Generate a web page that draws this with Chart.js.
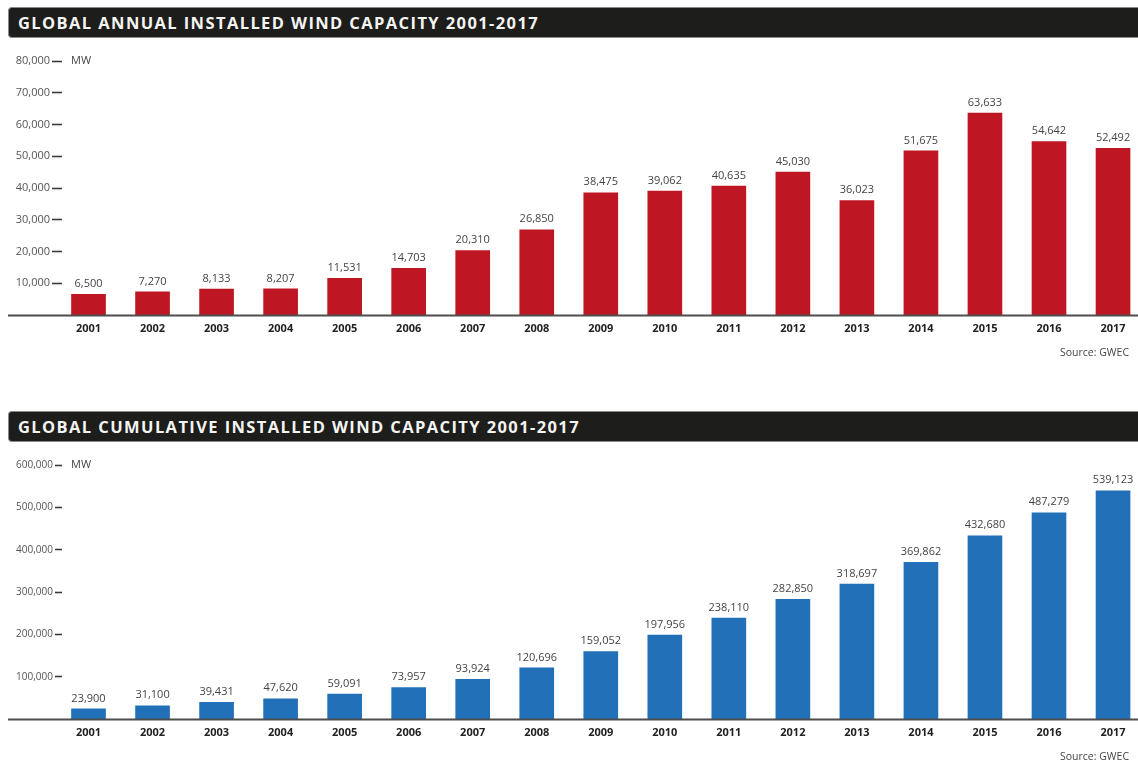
<!DOCTYPE html>
<html>
<head>
<meta charset="utf-8">
<script src="https://cdn.jsdelivr.net/npm/chart.js@4"></script>
<style>
  html, body { margin: 0; padding: 0; background: #fff; overflow: hidden; }
  body { width: 1138px; height: 763px; position: relative; font-family: "Open Sans", sans-serif; }
  .bar-title {
    position: absolute; left: 8px; width: 1130px; height: 31px;
    background: #1d1d1b; border: 1px solid #8a8a8a; border-right: none;
    border-radius: 4px 0 0 4px; box-sizing: border-box;
    color: #f4f4f2; font-weight: 700; font-size: 16.5px; line-height: 29px;
    padding-left: 9px; letter-spacing: 1.4px;
  }
  .source {
    position: absolute; right: 9px; font-size: 10.5px; color: #444;
  }
  canvas { position: absolute; left: 0; }
</style>
</head>
<body>
<div class="bar-title" style="top:7px">GLOBAL ANNUAL INSTALLED WIND CAPACITY 2001-2017</div>
<canvas id="annual" width="1138" height="310" style="top:40px"></canvas>
<div class="source" style="top:345px">Source: GWEC</div>

<div class="bar-title" style="top:411px">GLOBAL CUMULATIVE INSTALLED WIND CAPACITY 2001-2017</div>
<canvas id="cumulative" width="1138" height="310" style="top:444px"></canvas>
<div class="source" style="top:749px">Source: GWEC</div>

<script>
const years = [2001, 2002, 2003, 2004, 2005, 2006, 2007, 2008, 2009, 2010, 2011, 2012, 2013, 2014, 2015, 2016, 2017];
const annualMW = [6500, 7270, 8133, 8207, 11531, 14703, 20310, 26850, 38475, 39062, 40635, 45030, 36023, 51675, 63633, 54642, 52492];
const cumulativeMW = [23900, 31100, 39431, 47620, 59091, 73957, 93924, 120696, 159052, 197956, 238110, 282850, 318697, 369862, 432680, 487279, 539123];
const annualTicks = [10000, 20000, 30000, 40000, 50000, 60000, 70000, 80000];
const cumulativeTicks = [100000, 200000, 300000, 400000, 500000, 600000];

const fmt = v => v.toLocaleString('en-US');

// value labels over each bar, MW unit next to the top tick, baseline across the panel
const barDecor = {
  id: 'barDecor',
  afterDatasetsDraw(chart) {
    const ctx = chart.ctx;
    const y = chart.scales.y;
    ctx.save();
    // baseline
    const y0 = Math.round(y.getPixelForValue(0)) + 0.5;
    ctx.strokeStyle = '#4d4d4d';
    ctx.lineWidth = 2;
    ctx.beginPath();
    ctx.moveTo(8, y0);
    ctx.lineTo(chart.width, y0);
    ctx.stroke();

    ctx.font = '11px "Open Sans"';
    ctx.fillStyle = '#444';
    ctx.textAlign = 'center';
    ctx.textBaseline = 'bottom';
    const meta = chart.getDatasetMeta(0);
    const data = chart.data.datasets[0].data;
    meta.data.forEach((bar, i) => {
      ctx.fillText(fmt(data[i].y), bar.x, bar.y - 5);
    });

    ctx.font = '11px "Open Sans"';
    ctx.textAlign = 'left';
    ctx.textBaseline = 'middle';
    ctx.fillText('MW', 71, y.getPixelForValue(y.max));
    ctx.restore();
  }
};

function makeChart(id, values, tickValues, color, tickFont, tickLen) {
  const maxY = tickValues[tickValues.length - 1];
  return new Chart(document.getElementById(id), {
    type: 'bar',
    data: {
      datasets: [{
        data: years.map((yr, i) => ({ x: yr, y: values[i] })),
        backgroundColor: color,
        barThickness: 34
      }]
    },
    options: {
      responsive: false,
      animation: false,
      layout: { padding: { top: 21, bottom: 5, left: 0, right: 0 } },
      plugins: { legend: { display: false }, tooltip: { enabled: false } },
      scales: {
        x: {
          type: 'linear',
          offset: false,
          min: 2000.586,
          max: 2017.39,
          grid: { display: false, drawTicks: false },
          border: { display: false },
          afterBuildTicks: s => { s.ticks = years.map(v => ({ value: v })); },
          afterFit: s => { s.height = 30; },
          ticks: {
            padding: 7,
            color: '#222',
            font: { family: 'Open Sans', size: 11, weight: 'bold' },
            callback: v => String(v)
          }
        },
        y: {
          min: 0,
          max: maxY,
          afterBuildTicks: s => { s.ticks = tickValues.map(v => ({ value: v })); },
          afterFit: s => { s.width = 62; },
          grid: {
            drawOnChartArea: false,
            drawTicks: true,
            tickLength: tickLen,
            tickWidth: 1.6,
            tickColor: '#3a3a3a'
          },
          border: { display: false },
          ticks: {
            padding: 2,
            color: '#555',
            font: { family: 'Open Sans', size: tickFont },
            callback: v => fmt(v)
          }
        }
      }
    },
    plugins: [barDecor]
  });
}

makeChart('annual', annualMW, annualTicks, '#be1622', 11, 10);
makeChart('cumulative', cumulativeMW, cumulativeTicks, '#2170b8', 10, 7);
</script>
</body>
</html>
